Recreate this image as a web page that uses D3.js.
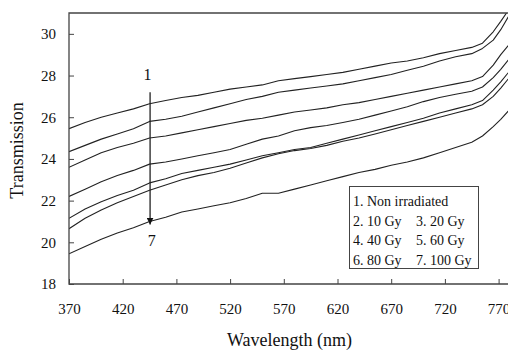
<!DOCTYPE html>
<html>
<head>
<meta charset="utf-8">
<script src="https://cdn.jsdelivr.net/npm/d3@7"></script>
<style>
  html, body { margin: 0; padding: 0; background: #fff; }
  svg { display: block; font-family: "Liberation Serif", "DejaVu Serif", serif; }
</style>
</head>
<body>
<div id="chart"></div>
<script>
const wavelength = [370, 385, 400, 415, 430, 445, 460, 475, 490, 505, 520, 535, 550, 565, 580,
  595, 610, 625, 640, 655, 670, 685, 700, 715, 730, 745, 755, 765, 772, 780];

const nonIrradiated = [25.45, 25.75, 26.0, 26.2, 26.4, 26.65, 26.8, 26.95, 27.05, 27.2, 27.35, 27.45, 27.55, 27.75, 27.85,
  27.95, 28.05, 28.15, 28.3, 28.45, 28.6, 28.7, 28.85, 29.05, 29.2, 29.35, 29.55, 30.1, 30.6, 31.2];
const gy10 = [24.35, 24.65, 24.95, 25.2, 25.45, 25.8, 25.9, 26.05, 26.25, 26.45, 26.65, 26.85, 27.0, 27.2, 27.3,
  27.4, 27.5, 27.6, 27.75, 27.9, 28.05, 28.25, 28.45, 28.7, 28.9, 29.05, 29.3, 29.7, 30.2, 30.9];
const gy20 = [23.6, 23.95, 24.3, 24.55, 24.75, 25.0, 25.1, 25.25, 25.4, 25.55, 25.7, 25.85, 25.95, 26.1, 26.25,
  26.35, 26.45, 26.6, 26.7, 26.85, 27.0, 27.15, 27.3, 27.45, 27.6, 27.75, 27.95, 28.5, 29.0, 29.5];
const gy40 = [22.2, 22.55, 22.9, 23.2, 23.45, 23.75, 23.85, 24.0, 24.15, 24.3, 24.45, 24.7, 24.95, 25.1, 25.35,
  25.5, 25.6, 25.75, 25.9, 26.1, 26.3, 26.5, 26.75, 26.95, 27.1, 27.25, 27.45, 27.9, 28.3, 28.8];
const gy60 = [21.15, 21.6, 21.95, 22.25, 22.5, 22.85, 23.05, 23.3, 23.45, 23.6, 23.75, 23.95, 24.15, 24.3, 24.45,
  24.55, 24.75, 24.95, 25.15, 25.35, 25.55, 25.75, 25.95, 26.2, 26.4, 26.6, 26.8, 27.3, 27.7, 28.2];
const gy80 = [20.65, 21.15, 21.55, 21.9, 22.2, 22.5, 22.75, 23.0, 23.2, 23.35, 23.55, 23.8, 24.05, 24.25, 24.4,
  24.5, 24.65, 24.85, 25.0, 25.2, 25.4, 25.6, 25.8, 26.0, 26.2, 26.4, 26.6, 27.0, 27.4, 27.9];
const gy100 = [19.45, 19.8, 20.15, 20.45, 20.7, 21.0, 21.2, 21.45, 21.6, 21.75, 21.9, 22.1, 22.35, 22.35, 22.55,
  22.75, 22.95, 23.15, 23.35, 23.5, 23.7, 23.85, 24.05, 24.3, 24.55, 24.8, 25.1, 25.55, 25.9, 26.35];

const series = [nonIrradiated, gy10, gy20, gy40, gy60, gy80, gy100];

const xTicks = [370, 420, 470, 520, 570, 620, 670, 720, 770];
const yTicks = [18, 20, 22, 24, 26, 28, 30];

const legendRows = [["1. Non irradiated"], ["2. 10 Gy", "3. 20 Gy"], ["4. 40 Gy", "5. 60 Gy"], ["6. 80 Gy", "7. 100 Gy"]];

const width = 508, height = 354;
const plotLeft = 69, plotTop = 13, plotBottom = 284, plotRight = 508;

const svg = d3.select('#chart').append('svg')
  .attr('width', width)
  .attr('height', height);

const x = d3.scaleLinear().domain([370, 770]).range([plotLeft, 498.6]);
const y = d3.scaleLinear().domain([18, 31]).range([plotBottom, plotTop]);

const defs = svg.append('defs');
defs.append('clipPath').attr('id', 'plot-clip')
  .append('rect')
  .attr('x', plotLeft).attr('y', plotTop)
  .attr('width', plotRight - plotLeft).attr('height', plotBottom - plotTop);

// curves
const line = d3.line()
  .x((d, i) => x(wavelength[i]))
  .y(d => y(d));

svg.append('g')
  .attr('clip-path', 'url(#plot-clip)')
  .selectAll('path')
  .data(series)
  .enter()
  .append('path')
  .attr('d', line)
  .attr('fill', 'none')
  .attr('stroke', '#222')
  .attr('stroke-width', 1.1)
  .attr('stroke-linejoin', 'round');

// axes
const xAxis = svg.append('g')
  .attr('transform', `translate(0,${plotBottom})`)
  .call(d3.axisBottom(x).tickValues(xTicks).tickSize(-5).tickPadding(19).tickFormat(d3.format('d')));
const yAxis = svg.append('g')
  .attr('transform', `translate(${plotLeft},0)`)
  .call(d3.axisLeft(y).tickValues(yTicks).tickSize(-5).tickPadding(13).tickFormat(d3.format('d')));

[xAxis, yAxis].forEach(g => {
  g.select('.domain').remove();
  g.selectAll('.tick line').attr('stroke', '#444');
  g.selectAll('.tick text')
    .attr('fill', '#111')
    .style('font-family', '"Liberation Serif", serif')
    .style('font-size', '15px');
});

// frame: left, bottom and top lines
svg.append('path')
  .attr('d', `M${plotRight},${plotTop}H${plotLeft}V${plotBottom}H${plotRight}`)
  .attr('fill', 'none')
  .attr('stroke', '#444')
  .attr('stroke-width', 1.3);

// axis titles
svg.append('text')
  .attr('x', (plotLeft + plotRight) / 2 + 1)
  .attr('y', 346)
  .attr('text-anchor', 'middle')
  .attr('font-size', '18px')
  .attr('fill', '#111')
  .text('Wavelength (nm)');

svg.append('text')
  .attr('transform', `translate(23,${(plotTop + plotBottom) / 2 + 2}) rotate(-90)`)
  .attr('text-anchor', 'middle')
  .attr('font-size', '18px')
  .attr('fill', '#111')
  .text('Transmission');

// arrow from curve 1 down to curve 7
defs.append('marker')
  .attr('id', 'arrow-head')
  .attr('viewBox', '0 0 10 10')
  .attr('refX', 10).attr('refY', 5)
  .attr('markerWidth', 7).attr('markerHeight', 7)
  .attr('markerUnits', 'userSpaceOnUse')
  .attr('orient', 'auto')
  .append('path')
  .attr('d', 'M0,0L10,5L0,10Z')
  .attr('fill', '#111');

svg.append('line')
  .attr('x1', x(445.5)).attr('x2', x(445.5))
  .attr('y1', y(27.2)).attr('y2', y(20.85))
  .attr('stroke', '#222')
  .attr('stroke-width', 1.3)
  .attr('marker-end', 'url(#arrow-head)');

svg.append('text')
  .attr('x', x(443)).attr('y', y(27.8))
  .attr('text-anchor', 'middle')
  .attr('font-size', '16px')
  .attr('fill', '#111')
  .text('1');

svg.append('text')
  .attr('x', x(447)).attr('y', y(19.8))
  .attr('text-anchor', 'middle')
  .attr('font-size', '16px')
  .attr('fill', '#111')
  .text('7');

// legend
const legend = svg.append('g');
legend.append('rect')
  .attr('x', 349.5).attr('y', 186.5)
  .attr('width', 129).attr('height', 82)
  .attr('fill', '#fff')
  .attr('stroke', '#444')
  .attr('stroke-width', 1);

legendRows.forEach((row, i) => {
  row.forEach((label, j) => {
    legend.append('text')
      .attr('x', j === 0 ? 353 : 416)
      .attr('y', 206 + i * 19.5)
      .attr('font-size', '14px')
      .attr('fill', '#111')
      .text(label);
  });
});
</script>
</body>
</html>
